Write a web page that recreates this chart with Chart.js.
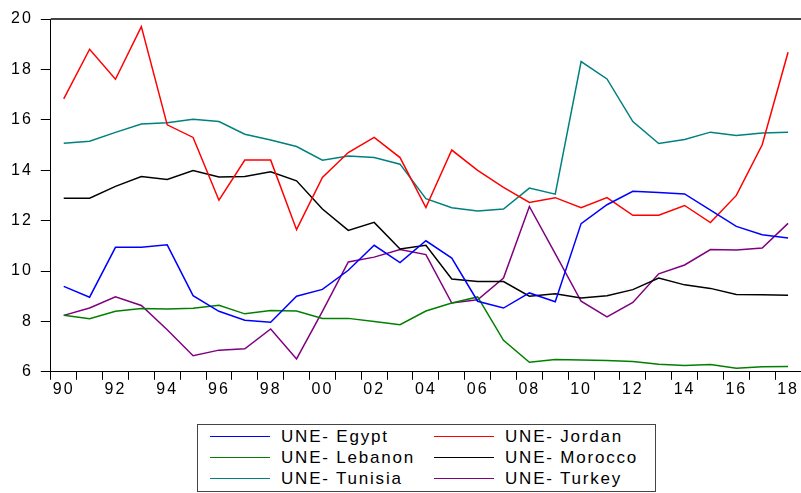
<!DOCTYPE html>
<html lang="en">
<head>
    <meta charset="UTF-8">
    <title>UNE</title>
    <script src="https://cdn.jsdelivr.net/npm/chart.js@4.4.1/dist/chart.umd.min.js"></script>
    <style>
        body { margin: 0; background: #fff; font-family: "Liberation Sans", Arial, sans-serif; }
        #wrap { position: relative; width: 801px; height: 493px; }
        #box { position: absolute; left: 0; top: 0; width: 801px; height: 405px; }
        #legend {
            position: absolute; left: 197px; top: 424px; width: 457px; height: 66px;
            border: 1px solid #444; box-sizing: content-box;
        }
        .item { position: absolute; height: 21px; font-size: 17px; letter-spacing: 1.8px; line-height: 21px; color: #000; white-space: nowrap; }
        .item span.ln { position: absolute; left: 0; top: 10px; width: 60px; height: 1px; }
        .item span.tx { position: absolute; left: 71px; top: 0; }
    </style>
</head>
<body>
<div id="wrap">
    <div id="box"><canvas id="myChart"></canvas></div>
    <div id="legend"></div>
</div>
<script>
    var years = [1990,1991,1992,1993,1994,1995,1996,1997,1998,1999,2000,2001,2002,2003,2004,2005,2006,2007,2008,2009,2010,2011,2012,2013,2014,2015,2016,2017,2018];
    var egypt = [9.39,8.96,10.94,10.94,11.04,9.02,8.40,8.05,7.97,9.00,9.27,10.03,11.02,10.33,11.20,10.51,8.80,8.53,9.13,8.78,11.88,12.63,13.16,13.12,13.06,12.42,11.77,11.44,11.31];
    var jordan = [16.83,18.80,17.61,19.70,15.80,15.30,12.81,14.40,14.40,11.64,13.71,14.70,15.30,14.50,12.52,14.80,13.99,13.32,12.72,12.91,12.51,12.91,12.21,12.21,12.60,11.92,13.00,15.01,18.68];
    var lebanon = [8.24,8.11,8.40,8.51,8.49,8.52,8.64,8.30,8.43,8.41,8.12,8.12,8.00,7.87,8.41,8.73,8.97,7.25,6.38,6.49,6.47,6.45,6.41,6.30,6.25,6.29,6.14,6.20,6.21];
    var morocco = [12.89,12.89,13.36,13.75,13.63,13.99,13.73,13.75,13.94,13.58,12.46,11.61,11.93,10.87,11.02,9.68,9.58,9.58,9.00,9.10,8.93,9.02,9.26,9.72,9.45,9.31,9.07,9.06,9.04];
    var tunisia = [15.07,15.15,15.50,15.83,15.88,16.02,15.93,15.43,15.20,14.94,14.40,14.56,14.50,14.24,12.87,12.51,12.38,12.46,13.29,13.05,18.31,17.62,15.93,15.06,15.22,15.51,15.38,15.48,15.51];
    var turkey = [8.24,8.53,8.98,8.63,7.67,6.64,6.86,6.91,7.70,6.51,8.40,10.36,10.55,10.85,10.65,8.73,8.86,9.72,12.56,10.69,8.80,8.18,8.75,9.89,10.24,10.85,10.83,10.91,11.89];

    var yTicks = [6,8,10,12,14,16,18,20];

    Chart.defaults.font.family = "'Liberation Sans', Arial, sans-serif";
    Chart.defaults.font.size = 16;
    Chart.defaults.color = "#000";

    function line(label, data, color){
        return { label: label, data: data, borderColor: color, backgroundColor: color,
                 borderWidth: 1.5, pointRadius: 0, tension: 0, fill: false };
    }

    // letter spacing + frame line on top
    var frame = {
        id: "frame",
        beforeUpdate: function(chart){ chart.ctx.letterSpacing = "2px"; },
        beforeDraw: function(chart){ chart.ctx.letterSpacing = "2px"; },
        afterDraw: function(chart){
            var a = chart.chartArea, c = chart.ctx;
            c.save();
            c.strokeStyle = "#444";
            c.lineWidth = 2;
            c.beginPath();
            c.moveTo(a.left, a.top);
            c.lineTo(a.right, a.top);
            c.stroke();
            c.restore();
        }
    };

    var ctx = document.getElementById("myChart");
    var myChart = new Chart(ctx, {
        type: "line",
        data: {
            labels: years,
            datasets: [
                line("UNE- Egypt", egypt, "#0000ff"),
                line("UNE- Jordan", jordan, "#ff0000"),
                line("UNE- Lebanon", lebanon, "#008000"),
                line("UNE- Morocco", morocco, "#000000"),
                line("UNE- Tunisia", tunisia, "#008080"),
                line("UNE- Turkey", turkey, "#800080")
            ]
        },
        options: {
            responsive: true,
            maintainAspectRatio: false,
            animation: false,
            layout: { padding: { left: 3, top: 19, right: 0, bottom: 6 } },
            plugins: { legend: { display: false }, tooltip: { enabled: false } },
            scales: {
                x: {
                    type: "category",
                    offset: true,
                    grid: { offset: true, drawOnChartArea: false, drawTicks: true, tickLength: 8, color: "#000" },
                    border: { display: true, color: "#000", width: 1 },
                    ticks: {
                        autoSkip: false, maxRotation: 0, padding: 0,
                        callback: function(v, i){
                            var y = years[i];
                            return y % 2 === 0 ? String(y).slice(2) : "";
                        }
                    }
                },
                y: {
                    min: yTicks[0],
                    max: yTicks[yTicks.length - 1],
                    afterBuildTicks: function(s){ s.ticks = yTicks.map(function(v){ return { value: v }; }); },
                    grid: { drawOnChartArea: false, drawTicks: true, tickLength: 10, color: "#000" },
                    border: { display: true, color: "#000", width: 1 },
                    ticks: { padding: 8 }
                }
            }
        },
        plugins: [frame]
    });

    // html legend, two columns
    var leg = document.getElementById("legend");
    myChart.data.datasets.forEach(function(ds, i){
        var col = i % 2, row = Math.floor(i / 2);
        var d = document.createElement("div");
        d.className = "item";
        d.style.left = (col === 0 ? 12 : 236) + "px";
        d.style.top = (1 + row * 21) + "px";
        d.innerHTML = '<span class="ln" style="background:' + ds.borderColor + '"></span><span class="tx">' + ds.label + '</span>';
        leg.appendChild(d);
    });
</script>
</body>
</html>
